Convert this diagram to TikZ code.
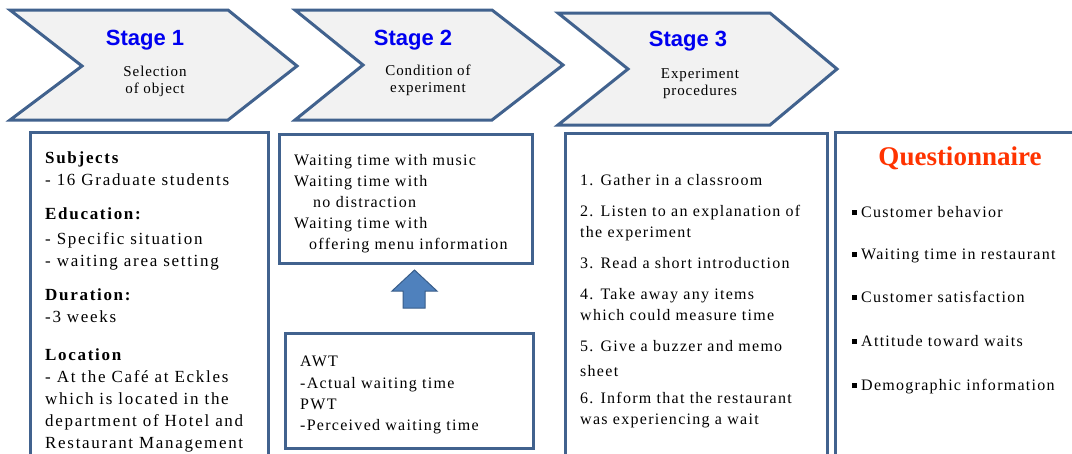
\documentclass[tikz,border=0pt]{standalone}
\usepackage{fontspec}
\setmainfont{Liberation Serif}
\newfontfamily\bodyf[LetterSpace=8]{Liberation Serif}
\newfontfamily\bodyw[LetterSpace=10]{Liberation Serif}
\newfontfamily\stagetf[LetterSpace=6]{Liberation Serif}
\newfontfamily\stagef{Liberation Sans}
\definecolor{bord}{HTML}{41628E}
\definecolor{chevfill}{HTML}{F2F2F2}
\definecolor{stageblue}{HTML}{0000F0}
\definecolor{qred}{HTML}{FF3300}
\definecolor{arrfill}{HTML}{4F81BD}
\definecolor{arrbord}{HTML}{385D8A}
\begin{document}
\begin{tikzpicture}[x=1pt,y=-1pt,
  chev/.style={draw=bord,fill=chevfill,line width=3pt,line join=miter},
  boxs/.style={draw=bord,line width=3pt},
  stagelbl/.style={font=\stagef\bfseries\fontsize{22}{25}\selectfont,text=stageblue,inner sep=0pt},
  stagetxt/.style={font=\stagetf\fontsize{15}{17}\selectfont,align=center,inner sep=0pt},
  txt/.style={font=\bodyf\fontsize{16}{21}\selectfont,align=left,inner sep=0pt,anchor=north west},
  txtb/.style={font=\bodyw\fontsize{17}{22}\selectfont,align=left,inner sep=0pt,anchor=north west},
  blt/.style={font=\bodyf\fontsize{16}{18}\selectfont,inner sep=0pt,anchor=base west}]
\useasboundingbox (0,0) rectangle (1072,453);
\clip (0,0) rectangle (1072,453);
\fill[white] (0,0) rectangle (1072,453);

% chevrons
\draw[chev] (10,10) -- (228,10) -- (297,66) -- (228,120) -- (10,120) -- (82,66) -- cycle;
\draw[chev] (295,10) -- (492,10) -- (563,65) -- (492,120) -- (295,120) -- (363,65) -- cycle;
\draw[chev] (558,13) -- (770,13) -- (837,69) -- (770,125) -- (558,125) -- (628,69) -- cycle;

\node[stagelbl] (s1) at (145,40) {Stage 1};
\node[stagetxt] (s1t) at (155,81) {Selection\\of object};
\node[stagelbl] (s2) at (413,40) {Stage 2};
\node[stagetxt] (s2t) at (428,80) {Condition of\\experiment};
\node[stagelbl] (s3) at (688,41) {Stage 3};
\node[stagetxt] (s3t) at (700,84) {Experiment\\procedures};

% boxes
\draw[boxs] (30,132) rectangle (268,480);
\draw[boxs] (279,134) rectangle (532,263);
\draw[boxs] (285,333) rectangle (533,448);
\draw[boxs] (565,133) rectangle (827,480);
\draw[boxs] (835,132) rectangle (1090,480);

% up arrow
\draw[fill=arrfill,draw=arrbord,line width=1pt,line join=miter]
  (403,308) -- (403,291) -- (392,291) -- (414.5,270) -- (437,291) -- (425,291) -- (425,308) -- cycle;

% box 1 text
\node[txtb] (b1) at (45,151.5) {\textbf{Subjects}\\- 16 Graduate students\\[12pt]
\textbf{Education:}\\[3pt]- Specific situation\\- waiting area setting\\[12pt]
\textbf{Duration:}\\-3 weeks\\[16pt]
\textbf{Location}\\- At the Café at Eckles\\which is located in the\\department of Hotel and\\Restaurant Management};

% box 2 text
\node[txt] (b2) at (294,154) {Waiting time with music\\Waiting time with\\\hspace*{19pt}no distraction\\Waiting time with\\\hspace*{15pt}offering menu information};

% box 3 text
\node[txt,font=\bodyf\fontsize{16}{21.3}\selectfont] (b3) at (300,356) {AWT\\-Actual waiting time\\PWT\\-Perceived waiting time};

% box 4 text
\node[txt] (b4) at (580,174) {1. Gather in a classroom\\[10pt]
2. Listen to an explanation of\\the experiment\\[10pt]
3. Read a short introduction\\[10pt]
4. Take away any items\\which could measure time\\[10pt]
5. Give a buzzer and memo\\[4pt]sheet\\[6pt]
6. Inform that the restaurant\\was experiencing a wait};

% box 5 text
\node[font=\bfseries\fontsize{27}{30}\selectfont,text=qred,inner sep=0pt] (q) at (960,158) {Questionnaire};
\node[blt] (q1) at (852,217) {\raisebox{2pt}{\rule{5pt}{5pt}}\hspace{4pt}Customer behavior};
\node[blt] (q2) at (852,259) {\raisebox{2pt}{\rule{5pt}{5pt}}\hspace{4pt}Waiting time in restaurant};
\node[blt] (q3) at (852,302) {\raisebox{2pt}{\rule{5pt}{5pt}}\hspace{4pt}Customer satisfaction};
\node[blt] (q4) at (852,346) {\raisebox{2pt}{\rule{5pt}{5pt}}\hspace{4pt}Attitude toward waits};
\node[blt] (q5) at (852,390) {\raisebox{2pt}{\rule{5pt}{5pt}}\hspace{4pt}Demographic information};
\end{tikzpicture}
\end{document}
